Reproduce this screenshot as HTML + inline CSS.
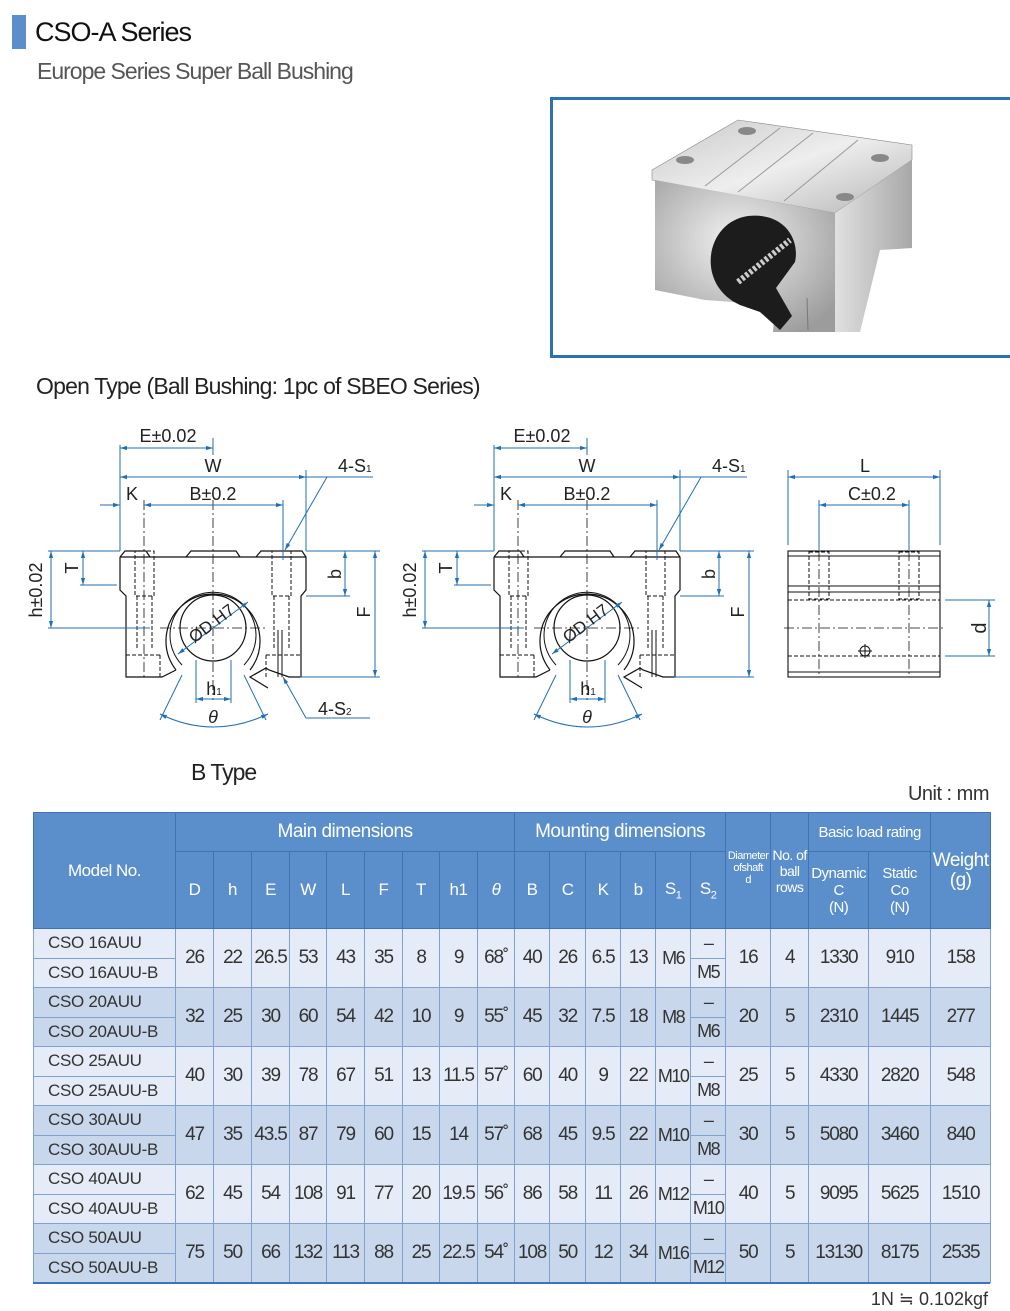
<!DOCTYPE html>
<html><head><meta charset="utf-8"><style>
html,body{margin:0;padding:0;background:#fff;width:1010px;height:1311px;overflow:hidden;position:relative;font-family:"Liberation Sans","Noto Sans CJK KR",sans-serif;}
.abs{position:absolute;white-space:nowrap;}
table{position:absolute;left:33px;top:812px;border-collapse:collapse;table-layout:fixed;width:957px;}
td,th{padding:0;text-align:center;overflow:hidden;white-space:nowrap;}
th{background:#5b8fcc;color:#fff;font-weight:normal;border:1px solid #3f73b5;font-size:17px;letter-spacing:-0.5px;}
td{border:1px solid #7ea2d2;color:#333;font-size:19px;letter-spacing:-1.2px;}
td.s{font-size:18px;letter-spacing:-1.5px;}
tr.r td{height:28.5px;}
.g1 td{background:#e6ecf7;}
.g2 td{background:#c9d7ec;}
td.m{text-align:left;padding-left:14px;font-size:17px;letter-spacing:-0.3px;}
</style></head><body>
<div class="abs" style="left:12px;top:15px;width:14px;height:34px;background:#5b8fcc"></div>
<div class="abs" style="left:35px;top:17px;font-size:27px;color:#111;letter-spacing:-1px">CSO-A Series</div>
<div class="abs" style="left:37px;top:58px;font-size:23px;color:#555;letter-spacing:-1px">Europe Series Super Ball Bushing</div>

<div class="abs" style="left:550px;top:97px;width:470px;height:255px;border:3px solid #2a72b0;"></div>
<svg class="abs" style="left:553px;top:100px" width="457" height="252" viewBox="553 100 457 252">
<defs>
<linearGradient id="tp" x1="0" y1="0" x2="1" y2="1"><stop offset="0" stop-color="#c9c9c9"/><stop offset=".5" stop-color="#eeeeee"/><stop offset="1" stop-color="#b5b5b5"/></linearGradient>
<radialGradient id="fr" cx=".45" cy=".4" r=".7"><stop offset="0" stop-color="#f2f2f2"/><stop offset="1" stop-color="#9c9c9c"/></radialGradient>
<linearGradient id="rt" x1="0" y1="0" x2="1" y2="0"><stop offset="0" stop-color="#e0e0e0"/><stop offset="1" stop-color="#a8a8a8"/></linearGradient>
</defs>
<polygon points="652,170 738,120 912,145 912,160 835,213 652,180" fill="url(#tp)" stroke="#888" stroke-width=".6"/>
<line x1="705" y1="186" x2="780" y2="128" stroke="#999"/><line x1="738" y1="192" x2="813" y2="133" stroke="#999"/><line x1="784" y1="201" x2="858" y2="140" stroke="#999"/>
<polygon points="655,180 835,213 835,332 773,332 775,305 705,300 655,290" fill="url(#fr)"/>
<polygon points="835,213 912,160 912,248 880,250 860,332 835,332" fill="url(#rt)"/>
<line x1="807" y1="298" x2="808" y2="330" stroke="#777"/>
<ellipse cx="685" cy="160" rx="9" ry="4" fill="#888"/><ellipse cx="747" cy="131" rx="9" ry="4" fill="#888"/>
<ellipse cx="880" cy="158" rx="9" ry="4" fill="#888"/><ellipse cx="845" cy="197" rx="9" ry="4" fill="#888"/>
<path d="M740,305 C695,285 705,222 748,216 C785,212 800,240 795,262 L776,288 L792,316 L780,330 L760,312 Z" fill="#1c1c1c"/>
<path d="M738,282 L790,240" stroke="#ccc" stroke-width="6" stroke-dasharray="3,2"/>
</svg>

<div class="abs" style="left:36px;top:373px;font-size:23px;color:#222;letter-spacing:-0.8px">Open Type (Ball Bushing: 1pc of SBEO Series)</div>

<svg class="abs" style="left:0;top:400px" width="1010" height="345" viewBox="0 400 1010 345" font-family="Liberation Sans, sans-serif">
<defs>
<marker id="a" viewBox="0 0 10 10" refX="10" refY="5" markerWidth="7" markerHeight="7" orient="auto-start-reverse"><path d="M0,2 L10,5 L0,8z" fill="#1f6fb5"/></marker>
<g id="blk">
<path d="M120,557 L125,551 L146,551 L150,557 M186,557 L191,551 L236,551 L240,557 M256,557 L261,551 L302,551 L306,557 L306,590 L301,596 L301,677 L289,677 L269,670 A48,48 0 0 0 266,668 L250,677 L268,688 M120,557 L120,590 L126,596 L126,677 L162,677 L176,670" fill="none" stroke="#111" stroke-width="1.2"/>
<line x1="120" y1="557" x2="306" y2="557" stroke="#111" stroke-width="1.2"/>
<path d="M176,670 A47,47 0 1 1 250,670" fill="none" stroke="#111" stroke-width="1.2"/>
<path d="M182,665 A43,43 0 1 1 244,665" fill="none" stroke="#111" stroke-width="1"/>
<circle cx="213" cy="628" r="33" fill="none" stroke="#111" stroke-width="1.2"/>
<g stroke="#111" stroke-width="1" stroke-dasharray="4,2" fill="none">
<rect x="135" y="551" width="19" height="45"/><rect x="272" y="551" width="19" height="45"/>
<line x1="137" y1="596" x2="137" y2="650"/><line x1="152" y1="596" x2="152" y2="650"/>
<line x1="274" y1="596" x2="274" y2="650"/><line x1="289" y1="596" x2="289" y2="650"/>
<line x1="126" y1="655" x2="160" y2="655"/><line x1="160" y1="655" x2="160" y2="677"/>
<line x1="266" y1="655" x2="301" y2="655"/><line x1="266" y1="655" x2="266" y2="677"/>
</g>
<g stroke="#111" stroke-width=".8" stroke-dasharray="10,3,2,3"><line x1="160" y1="628" x2="266" y2="628"/><line x1="213" y1="500" x2="213" y2="700"/><line x1="144" y1="500" x2="144" y2="680"/></g>
<line x1="278" y1="630" x2="278" y2="677" stroke="#111"/><line x1="282" y1="630" x2="282" y2="677" stroke="#111"/>
<g stroke="#1f6fb5" stroke-width="1" fill="none">
<line x1="120" y1="445" x2="120" y2="551"/><line x1="306" y1="470" x2="306" y2="551"/><line x1="283" y1="500" x2="283" y2="560"/><line x1="213" y1="438" x2="213" y2="455"/>
<line x1="120" y1="448" x2="213" y2="448" marker-start="url(#a)" marker-end="url(#a)"/>
<line x1="120" y1="477" x2="306" y2="477" marker-start="url(#a)" marker-end="url(#a)"/>
<line x1="100" y1="505" x2="120" y2="505" marker-end="url(#a)"/>
<line x1="144" y1="505" x2="283" y2="505" marker-start="url(#a)" marker-end="url(#a)"/>
<line x1="306" y1="477" x2="373" y2="477"/><line x1="327" y1="477" x2="285" y2="550" marker-end="url(#a)"/>
<line x1="48" y1="551" x2="120" y2="551"/><line x1="48" y1="628" x2="150" y2="628"/>
<line x1="51" y1="551" x2="51" y2="628" marker-start="url(#a)" marker-end="url(#a)"/>
<line x1="80" y1="585" x2="117" y2="585"/><line x1="83" y1="551" x2="83" y2="585" marker-start="url(#a)" marker-end="url(#a)"/>
<line x1="306" y1="596" x2="350" y2="596"/><line x1="345" y1="551" x2="345" y2="596" marker-start="url(#a)" marker-end="url(#a)"/>
<line x1="306" y1="551" x2="380" y2="551"/><line x1="300" y1="677" x2="380" y2="677"/>
<line x1="375" y1="551" x2="375" y2="677" marker-start="url(#a)" marker-end="url(#a)"/>
<line x1="196" y1="660" x2="196" y2="703"/><line x1="231" y1="660" x2="231" y2="703"/>
<line x1="196" y1="699" x2="231" y2="699" marker-start="url(#a)" marker-end="url(#a)"/>
<line x1="182" y1="675" x2="160" y2="720"/><line x1="244" y1="675" x2="266" y2="720"/>
<path d="M160,714 Q213,740 268,714" marker-start="url(#a)" marker-end="url(#a)"/>
<line x1="178" y1="654" x2="248" y2="602" marker-start="url(#a)" marker-end="url(#a)"/>
</g>
<g fill="#222" font-size="18">
<text x="168" y="442" text-anchor="middle">E±0.02</text>
<text x="213" y="472" text-anchor="middle">W</text>
<text x="132" y="500" text-anchor="middle">K</text>
<text x="213" y="500" text-anchor="middle">B±0.2</text>
<text x="338" y="472">4-S<tspan font-size="10">1</tspan></text>
<text transform="translate(42,590) rotate(-90)" text-anchor="middle">h±0.02</text>
<text transform="translate(78,568) rotate(-90)" text-anchor="middle">T</text>
<text transform="translate(341,574) rotate(-90)" text-anchor="middle">b</text>
<text transform="translate(370,612) rotate(-90)" text-anchor="middle">F</text>
<text x="214" y="695" text-anchor="middle">h<tspan font-size="10">1</tspan></text>
<text x="213" y="723" text-anchor="middle" font-style="italic">θ</text>
<text transform="translate(215,628) rotate(-37)" text-anchor="middle" font-size="17">ØD H7</text>
</g>
</g>
</defs>
<use href="#blk"/>
<g stroke="#1f6fb5" fill="none"><path d="M283,677 L306,718 L370,718" marker-start="url(#a)"/></g>
<text x="318" y="715" font-size="18" fill="#222">4-S<tspan font-size="10">2</tspan></text>
<use href="#blk" transform="translate(374,0)"/>
<g stroke="#111" stroke-width="1.1" fill="none">
<rect x="788" y="551" width="152" height="126"/>
<line x1="788" y1="556" x2="940" y2="556"/><line x1="788" y1="586" x2="940" y2="586"/><line x1="788" y1="592" x2="940" y2="592"/><line x1="788" y1="672" x2="940" y2="672"/>
</g>
<g stroke="#111" stroke-width="1" stroke-dasharray="4,2" fill="none">
<rect x="809" y="552" width="20" height="47"/><rect x="899" y="552" width="20" height="47"/>
<line x1="788" y1="600" x2="940" y2="600"/><line x1="788" y1="656" x2="940" y2="656"/>
</g>
<g stroke="#111" stroke-width=".8" stroke-dasharray="10,3,2,3"><line x1="784" y1="628" x2="945" y2="628"/><line x1="819" y1="551" x2="819" y2="677"/><line x1="909" y1="551" x2="909" y2="677"/></g>
<circle cx="865" cy="651" r="5" fill="none" stroke="#111"/><line x1="858" y1="651" x2="872" y2="651" stroke="#111"/><line x1="865" y1="644" x2="865" y2="658" stroke="#111"/>
<g stroke="#1f6fb5" fill="none">
<line x1="788" y1="470" x2="788" y2="545"/><line x1="940" y1="470" x2="940" y2="545"/>
<line x1="788" y1="477" x2="940" y2="477" marker-start="url(#a)" marker-end="url(#a)"/>
<line x1="819" y1="500" x2="819" y2="550"/><line x1="909" y1="500" x2="909" y2="550"/>
<line x1="819" y1="505" x2="909" y2="505" marker-start="url(#a)" marker-end="url(#a)"/>
<line x1="945" y1="600" x2="995" y2="600"/><line x1="945" y1="656" x2="995" y2="656"/>
<line x1="989" y1="600" x2="989" y2="656" marker-start="url(#a)" marker-end="url(#a)"/>
</g>
<g fill="#222" font-size="18">
<text x="865" y="472" text-anchor="middle">L</text>
<text x="872" y="500" text-anchor="middle">C±0.2</text>
<text transform="translate(986,628) rotate(-90)" text-anchor="middle" font-size="20">d</text>
</g>
</svg>

<div class="abs" style="left:191px;top:759px;font-size:23px;color:#222;letter-spacing:-1px">B Type</div>
<div class="abs" style="right:21px;top:783px;font-size:20px;color:#333;letter-spacing:-0.5px">Unit : mm</div>

<table>
<colgroup><col style="width:142px"><col style="width:38px"><col style="width:38px"><col style="width:38px"><col style="width:37px"><col style="width:38px"><col style="width:38px"><col style="width:37px"><col style="width:38px"><col style="width:37px"><col style="width:35px"><col style="width:36px"><col style="width:35px"><col style="width:35px"><col style="width:35px"><col style="width:35px"><col style="width:45px"><col style="width:38px"><col style="width:60px"><col style="width:62px"><col style="width:60px"></colgroup>
<tr style="height:39px"><th rowspan="2">Model No.</th><th colspan="9" style="font-size:19px">Main dimensions</th><th colspan="6" style="font-size:19px">Mounting dimensions</th><th rowspan="2" style="font-size:11px;line-height:12px;vertical-align:top;padding-top:37px">Diameter<br>ofshaft<br>d</th><th rowspan="2" style="font-size:14px;line-height:16px">No. of<br>ball<br>rows</th><th colspan="2" style="font-size:15px">Basic load rating</th><th rowspan="2" style="font-size:19px;line-height:20px">Weight<br>(g)</th></tr>
<tr style="height:77px"><th>D</th><th>h</th><th>E</th><th>W</th><th>L</th><th>F</th><th>T</th><th>h1</th><th><i>θ</i></th><th>B</th><th>C</th><th>K</th><th>b</th><th>S<sub style="font-size:11px">1</sub></th><th>S<sub style="font-size:11px">2</sub></th><th style="font-size:15px;line-height:17px">Dynamic<br>C<br>(N)</th><th style="font-size:15px;line-height:17px">Static<br>Co<br>(N)</th></tr>
<tr class="r g1"><td class="m">CSO 16AUU</td><td rowspan="2">26</td><td rowspan="2">22</td><td rowspan="2">26.5</td><td rowspan="2">53</td><td rowspan="2">43</td><td rowspan="2">35</td><td rowspan="2">8</td><td rowspan="2">9</td><td rowspan="2">68˚</td><td rowspan="2">40</td><td rowspan="2">26</td><td rowspan="2">6.5</td><td rowspan="2">13</td><td rowspan="2" class="s">M6</td><td class="s">–</td><td rowspan="2">16</td><td rowspan="2">4</td><td rowspan="2">1330</td><td rowspan="2">910</td><td rowspan="2">158</td></tr>
<tr class="r g1"><td class="m">CSO 16AUU-B</td><td class="s">M5</td></tr>
<tr class="r g2"><td class="m">CSO 20AUU</td><td rowspan="2">32</td><td rowspan="2">25</td><td rowspan="2">30</td><td rowspan="2">60</td><td rowspan="2">54</td><td rowspan="2">42</td><td rowspan="2">10</td><td rowspan="2">9</td><td rowspan="2">55˚</td><td rowspan="2">45</td><td rowspan="2">32</td><td rowspan="2">7.5</td><td rowspan="2">18</td><td rowspan="2" class="s">M8</td><td class="s">–</td><td rowspan="2">20</td><td rowspan="2">5</td><td rowspan="2">2310</td><td rowspan="2">1445</td><td rowspan="2">277</td></tr>
<tr class="r g2"><td class="m">CSO 20AUU-B</td><td class="s">M6</td></tr>
<tr class="r g1"><td class="m">CSO 25AUU</td><td rowspan="2">40</td><td rowspan="2">30</td><td rowspan="2">39</td><td rowspan="2">78</td><td rowspan="2">67</td><td rowspan="2">51</td><td rowspan="2">13</td><td rowspan="2">11.5</td><td rowspan="2">57˚</td><td rowspan="2">60</td><td rowspan="2">40</td><td rowspan="2">9</td><td rowspan="2">22</td><td rowspan="2" class="s">M10</td><td class="s">–</td><td rowspan="2">25</td><td rowspan="2">5</td><td rowspan="2">4330</td><td rowspan="2">2820</td><td rowspan="2">548</td></tr>
<tr class="r g1"><td class="m">CSO 25AUU-B</td><td class="s">M8</td></tr>
<tr class="r g2"><td class="m">CSO 30AUU</td><td rowspan="2">47</td><td rowspan="2">35</td><td rowspan="2">43.5</td><td rowspan="2">87</td><td rowspan="2">79</td><td rowspan="2">60</td><td rowspan="2">15</td><td rowspan="2">14</td><td rowspan="2">57˚</td><td rowspan="2">68</td><td rowspan="2">45</td><td rowspan="2">9.5</td><td rowspan="2">22</td><td rowspan="2" class="s">M10</td><td class="s">–</td><td rowspan="2">30</td><td rowspan="2">5</td><td rowspan="2">5080</td><td rowspan="2">3460</td><td rowspan="2">840</td></tr>
<tr class="r g2"><td class="m">CSO 30AUU-B</td><td class="s">M8</td></tr>
<tr class="r g1"><td class="m">CSO 40AUU</td><td rowspan="2">62</td><td rowspan="2">45</td><td rowspan="2">54</td><td rowspan="2">108</td><td rowspan="2">91</td><td rowspan="2">77</td><td rowspan="2">20</td><td rowspan="2">19.5</td><td rowspan="2">56˚</td><td rowspan="2">86</td><td rowspan="2">58</td><td rowspan="2">11</td><td rowspan="2">26</td><td rowspan="2" class="s">M12</td><td class="s">–</td><td rowspan="2">40</td><td rowspan="2">5</td><td rowspan="2">9095</td><td rowspan="2">5625</td><td rowspan="2">1510</td></tr>
<tr class="r g1"><td class="m">CSO 40AUU-B</td><td class="s">M10</td></tr>
<tr class="r g2"><td class="m">CSO 50AUU</td><td rowspan="2">75</td><td rowspan="2">50</td><td rowspan="2">66</td><td rowspan="2">132</td><td rowspan="2">113</td><td rowspan="2">88</td><td rowspan="2">25</td><td rowspan="2">22.5</td><td rowspan="2">54˚</td><td rowspan="2">108</td><td rowspan="2">50</td><td rowspan="2">12</td><td rowspan="2">34</td><td rowspan="2" class="s">M16</td><td class="s">–</td><td rowspan="2">50</td><td rowspan="2">5</td><td rowspan="2">13130</td><td rowspan="2">8175</td><td rowspan="2">2535</td></tr>
<tr class="r g2"><td class="m">CSO 50AUU-B</td><td class="s">M12</td></tr>
</table>
<div class="abs" style="left:33px;top:1282px;width:957px;height:2px;background:#3f73b5"></div>
<div class="abs" style="right:22px;top:1289px;font-size:18px;color:#333">1N ≒ 0.102kgf</div>
</body></html>
